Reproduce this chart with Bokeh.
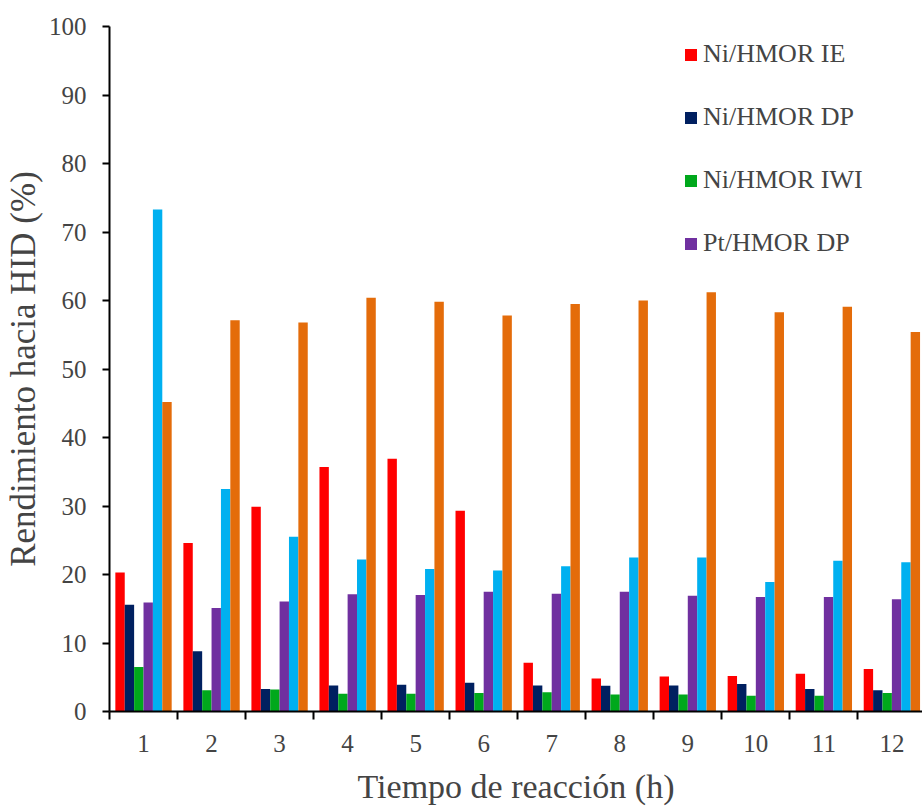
from bokeh.plotting import figure
from bokeh.models import Range1d, FixedTicker, Legend, LegendItem
from bokeh.embed import file_html
from bokeh.resources import INLINE

# ---- data ----
categories = ["1", "2", "3", "4", "5", "6", "7", "8", "9", "10", "11", "12"]
ni_hmor_ie = [20.3, 24.6, 29.9, 35.7, 36.9, 29.3, 7.1, 4.8, 5.1, 5.2, 5.5, 6.2]
ni_hmor_dp = [15.6, 8.8, 3.3, 3.8, 3.9, 4.2, 3.8, 3.75, 3.8, 4.0, 3.3, 3.1]
ni_hmor_iwi = [6.5, 3.1, 3.2, 2.6, 2.6, 2.7, 2.8, 2.5, 2.5, 2.3, 2.3, 2.7]
pt_hmor_dp = [15.9, 15.1, 16.05, 17.1, 17.0, 17.5, 17.2, 17.5, 16.9, 16.7, 16.7, 16.4]
serie5 = [73.3, 32.5, 25.5, 22.2, 20.8, 20.6, 21.2, 22.5, 22.5, 18.9, 22.0, 21.8]
serie6 = [45.2, 57.1, 56.8, 60.4, 59.8, 57.8, 59.5, 60.0, 61.2, 58.3, 59.1, 55.4]

series_names = ["Ni/HMOR IE", "Ni/HMOR DP", "Ni/HMOR IWI", "Pt/HMOR DP", "Serie 5", "Serie 6"]
series_values = [ni_hmor_ie, ni_hmor_dp, ni_hmor_iwi, pt_hmor_dp, serie5, serie6]
colors = ["#FF0000", "#002060", "#00A81C", "#7030A0", "#00B0F0", "#E46C0A"]
legend_count = 4

FONT = "Liberation Serif"

p = figure(width=922, height=808, output_backend="svg", toolbar_location=None,
           x_range=Range1d(0, 11.95), y_range=Range1d(0, 100),
           min_border_left=107, min_border_right=0, min_border_top=26, min_border_bottom=97)
p.outline_line_color = None
p.xgrid.grid_line_color = None
p.ygrid.grid_line_color = None

n = len(series_values)
bar_w = 0.138
centers = [i + 0.5 for i in range(len(categories))]
renderers = []
for j, (vals, col) in enumerate(zip(series_values, colors)):
    xs = [c + (j - (n - 1) / 2) * bar_w for c in centers]
    r = p.vbar(x=xs, top=vals, width=bar_w, fill_color=col, line_color=None)
    renderers.append(r)

# y axis
p.yaxis.ticker = FixedTicker(ticks=list(range(0, 101, 10)))
p.yaxis.axis_label = "Rendimiento hacia HID (%)"
p.yaxis.axis_label_text_font = FONT
p.yaxis.axis_label_text_font_style = "normal"
p.yaxis.axis_label_text_font_size = "35px"
p.yaxis.axis_label_standoff = 3
p.yaxis.major_label_text_font = FONT
p.yaxis.major_label_text_font_size = "25px"
p.yaxis.major_label_standoff = 16
p.yaxis.major_tick_out = 7
p.yaxis.major_tick_in = 0
p.yaxis.minor_tick_out = 0
p.yaxis.minor_tick_in = 0
p.yaxis.axis_line_width = 2
p.yaxis.major_tick_line_width = 2

# x axis: labels at group centers, ticks at group boundaries
p.xaxis.ticker = FixedTicker(ticks=centers, minor_ticks=list(range(0, len(categories) + 1)))
p.xaxis.major_label_overrides = {c: lab for c, lab in zip(centers, categories)}
p.xaxis.major_tick_out = 0
p.xaxis.major_tick_in = 0
p.xaxis.minor_tick_out = 8
p.xaxis.minor_tick_in = 0
p.xaxis.minor_tick_line_width = 2
p.xaxis.axis_line_width = 2
p.xaxis.major_label_text_font = FONT
p.xaxis.major_label_text_font_size = "25px"
p.xaxis.major_label_standoff = 15
p.xaxis.axis_label = "Tiempo de reacción (h)"
p.xaxis.axis_label_text_font = FONT
p.xaxis.axis_label_text_font_style = "normal"
p.xaxis.axis_label_text_font_size = "34px"
p.xaxis.axis_label_standoff = 13

items = [LegendItem(label=series_names[k], renderers=[renderers[k]]) for k in range(legend_count)]
legend = Legend(items=items, location=(574, 453), orientation="vertical",
                label_text_font=FONT, label_text_font_size="26px",
                glyph_width=15, glyph_height=15, label_height=30, label_standoff=5,
                spacing=33, padding=0, margin=0,
                border_line_color=None, background_fill_alpha=0)
p.add_layout(legend, "center")

open("out.html", "w").write(file_html(p, INLINE))
